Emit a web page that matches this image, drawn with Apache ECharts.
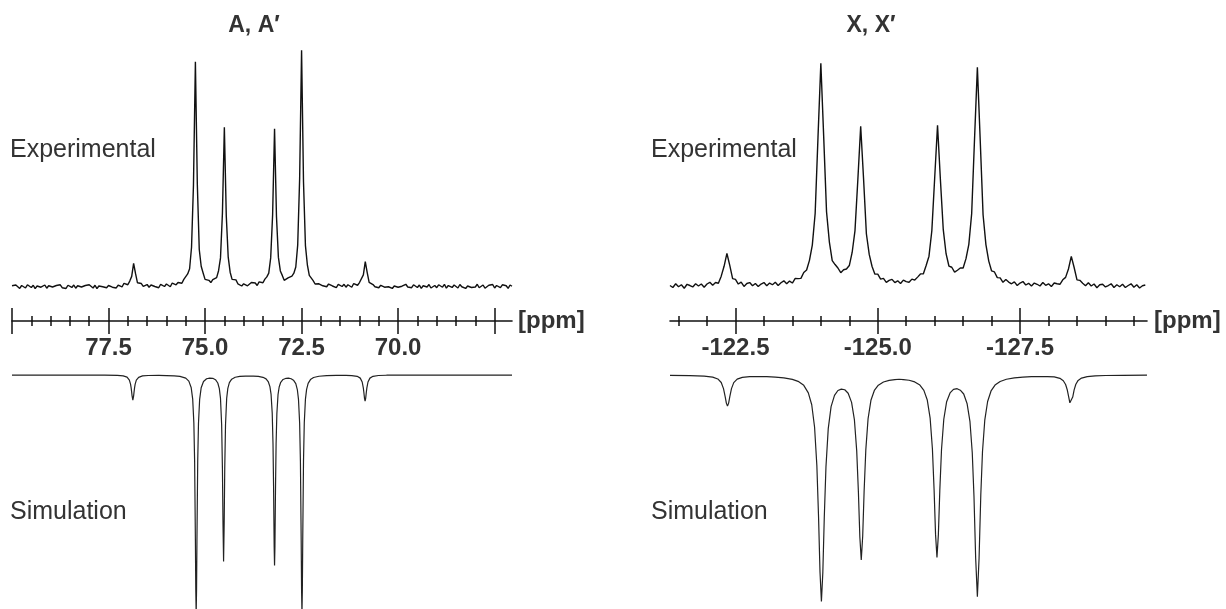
<!DOCTYPE html>
<html>
<head>
<meta charset="utf-8">
<script src="https://cdn.jsdelivr.net/npm/echarts@6/dist/echarts.min.js"></script>
<style>
  html, body { margin: 0; background: #fff; }
  #main { width: 1226px; height: 609px; }
</style>
</head>
<body>
<div id="main"></div>
<script>
// ---- tick positions (ppm) ----
const leftMajorTicks = [80, 77.5, 75, 72.5, 70, 67.5];
const leftLabelTicks = [77.5, 75, 72.5, 70];
const leftMinorTicks = [79.5, 79, 78.5, 78, 77, 76.5, 76, 75.5, 74.5, 74, 73.5, 73,
  72, 71.5, 71, 70.5, 69.5, 69, 68.5, 68];
const rightMajorTicks = [-122.5, -125, -127.5];
const rightLabelTicks = [-122.5, -125, -127.5];
const rightMinorTicks = [-121.5, -122, -123, -123.5, -124, -124.5, -125.5, -126,
  -126.5, -127, -128, -128.5, -129, -129.5];

// ---- experimental spectra: intensity every 0.05 ppm ----
const leftExpStart = 80.0;
const rightExpStart = -121.35;
const expStep = 0.05;

const leftExp = [
  0.3, -0.5, 0.6, -0.2, -0.8, 0.4, 0.1, -0.6, 0.7, -0.1,
  -0.4, 0.5, -0.9, 0.2, 0.8, -0.3, 0.0, 0.6, -0.7, 0.3,
  0.9, -0.2, -0.6, 0.4, -0.1, 0.7, -0.5, 0.2, -0.8, 0.5,
  0.1, -0.4, 0.6, -0.7, 0.3, 0.8, -0.2, -0.5, 0.4, -0.3,
  0.7, 0.0, -0.6, 0.5, -0.9, 0.2, 0.6, -0.1, 0.3, -0.5,
  0.4, 0.8, -0.3, 0.1, -0.6, 0.6, 0.4, -0.2, 1.3, 0.8,
  0.7, 2.2, 4.1, 9.4, 5.2, 1.5, 1.1, 1.2, 0.0, 0.4,
  0.8, -0.3, 0.6, 1.1, 0.0, 0.6, -0.5, 0.9, 0.4, 0.0,
  1.0, 0.6, -0.1, 1.4, 0.9, 0.7, 1.6, 1.6, 1.3, 2.9,
  3.3, 5.1, 7.2, 15.9, 41.2, 91.2, 41.5, 15.0, 8.2, 5.5,
  2.9, 3.3, 2.5, 1.6, 2.8, 3.6, 3.6, 6.4, 11.6, 29.7,
  64.6, 28.6, 11.9, 5.8, 2.9, 2.9, 2.7, 1.1, 1.6, 0.2,
  1.1, 1.5, 0.3, 1.1, 1.6, 0.8, 1.4, 0.4, 1.9, 1.6,
  1.5, 3.0, 3.9, 5.4, 11.6, 29.1, 64.0, 28.4, 11.8, 6.3,
  4.5, 2.5, 3.1, 3.5, 2.7, 4.2, 5.4, 7.9, 16.9, 43.8,
  95.8, 42.4, 16.6, 8.8, 4.5, 3.7, 2.4, 1.0, 1.8, 1.1,
  1.7, 0.3, 0.9, -0.1, 1.0, 1.3, 0.2, 0.7, -0.5, 0.9,
  0.5, 0.0, 0.9, -0.3, 0.7, 0.4, -0.3, 1.2, 0.8, 0.5,
  1.6, 2.4, 4.7, 10.1, 5.6, 1.7, 1.7, 0.8, -0.1, 0.7,
  -0.5, 0.5, 0.9, -0.3, 0.5, -0.1, 0.6, -0.8, 0.2, 0.7,
  -0.3, 0.5, 0.1, -0.6, 0.9, -0.2, 0.4, -0.5, 0.7, 0.0,
  -0.4, 0.6, -0.8, 0.3, 0.5, -0.2, 0.8, -0.6, 0.1, 0.4,
  -0.5, 0.7, 0.2, -0.3, 0.9, -0.7, 0.4, 0.1, -0.4, 0.6,
  0.3, -0.6, 0.8, -0.1, 0.5, -0.8, 0.2, 0.7, -0.4, 0.4,
  -0.2, 0.9, -0.5, 0.3, 0.6, -0.7, 0.1, 0.5, -0.3, 0.8,
  -0.6, 0.4, 0.2, -0.5, 0.7, -0.1, 0.3, -0.8, 0.6, 0.1
];

const rightExp = [
  0.4, -0.4, 1.1, -0.1, 0.7, -0.7, 0.9, 0.4, -0.2, 1.1,
  0.2, 1.0, -0.3, 1.0, 1.7, 0.5, 1.6, 1.3, 4.2, 8.2,
  13.4, 8.6, 3.2, 2.9, 1.0, 1.8, 0.0, 1.2, 1.6, 0.3,
  1.2, 0.0, 1.0, 1.6, 0.3, 1.4, 0.7, 1.7, 0.4, 1.5,
  2.3, 1.1, 2.2, 1.4, 3.3, 3.2, 3.3, 5.7, 6.7, 10.6,
  16.8, 29.6, 60.5, 90.6, 60.8, 30.3, 18.0, 10.5, 8.9, 7.5,
  5.6, 6.8, 7.1, 8.5, 13.8, 22.7, 43.3, 65.0, 43.9, 21.4,
  13.0, 8.1, 5.0, 5.0, 3.0, 3.3, 1.7, 2.5, 2.9, 1.6,
  2.3, 1.2, 2.6, 2.0, 1.7, 3.0, 2.6, 3.8, 5.1, 5.1,
  8.5, 12.3, 22.6, 44.0, 65.4, 43.5, 23.3, 13.3, 8.3, 7.8,
  5.8, 6.6, 7.5, 7.5, 11.3, 17.1, 29.6, 59.8, 88.9, 59.3,
  29.1, 17.0, 10.3, 6.3, 5.9, 3.6, 3.5, 1.7, 2.8, 1.8,
  1.1, 1.9, 0.4, 1.4, 2.0, 0.6, 1.3, 0.2, 1.4, 0.9,
  0.2, 1.6, 0.5, 1.1, 0.0, 1.4, 1.1, 0.9, 2.7, 3.7,
  7.1, 12.2, 7.7, 2.7, 2.5, 1.3, 0.3, 1.5, 0.2, 1.0,
  -0.5, 0.7, 0.9, -0.2, 0.4, 1.1, -0.4, 0.7, -0.1, 0.9,
  -0.4, 0.4, 1.1, -0.3, 0.7, -0.6, 0.3, 0.6
];

// ---- simulated spectra: [ppm, depth] ----
const leftSim = [
  [80.0, 0], [79.0, 0.02], [78.0, 0.05], [77.6, 0.06], [77.27, 0.15], [77.12, 0.37],
  [77.02, 0.92], [76.96, 2.2], [76.93, 3.9], [76.915, 5.4], [76.9, 7.4], [76.89, 8.9],
  [76.87, 10.7], [76.85, 8.9], [76.84, 7.4], [76.825, 5.4], [76.81, 3.9], [76.78, 2.2],
  [76.72, 1.0], [76.62, 0.38], [76.47, 0.2], [76.2, 0.18], [76.0, 0.22], [75.8, 0.33],
  [75.65, 0.58], [75.5, 1.33], [75.42, 2.6], [75.36, 5.3], [75.32, 10.3], [75.29, 20.5],
  [75.27, 36.8], [75.25, 70.7], [75.24, 91.8], [75.23, 102], [75.22, 91.8], [75.21, 70.8],
  [75.19, 36.9], [75.17, 20.6], [75.14, 10.4], [75.1, 5.4], [75.04, 2.75], [74.96, 1.6],
  [74.88, 1.35], [74.8, 1.4], [74.73, 2.0], [74.67, 3.4], [74.63, 5.8], [74.6, 10.0],
  [74.57, 21.3], [74.55, 40], [74.535, 63.8], [74.52, 79.7], [74.505, 63.8], [74.49, 40],
  [74.47, 21.3], [74.44, 10.0], [74.41, 5.7], [74.37, 3.24], [74.31, 1.76], [74.22, 0.96],
  [74.1, 0.56], [73.95, 0.46], [73.85, 0.44], [73.75, 0.46], [73.62, 0.6], [73.5, 0.98],
  [73.42, 1.65], [73.36, 2.95], [73.32, 4.95], [73.29, 8.3], [73.26, 16.4], [73.24, 29.4],
  [73.225, 48.1], [73.21, 73.3], [73.2, 81.4], [73.19, 73.3], [73.175, 48.1], [73.16, 29.5],
  [73.14, 16.5], [73.11, 8.4], [73.08, 5.1], [73.04, 3.1], [72.98, 1.9], [72.9, 1.4],
  [72.84, 1.35], [72.77, 1.6], [72.71, 2.2], [72.65, 3.7], [72.61, 6.2], [72.58, 10.4],
  [72.55, 20.6], [72.53, 36.9], [72.51, 70.8], [72.5, 91.8], [72.49, 102], [72.48, 91.8],
  [72.47, 70.7], [72.45, 36.8], [72.43, 20.5], [72.4, 10.3], [72.37, 6.1], [72.33, 3.56],
  [72.27, 1.95], [72.19, 1.06], [72.05, 0.52], [71.85, 0.26], [71.6, 0.17], [71.35, 0.17],
  [71.2, 0.24], [71.06, 0.55], [70.98, 1.32], [70.93, 2.98], [70.9, 5.6], [70.885, 7.66],
  [70.87, 10.0], [70.855, 11.1], [70.84, 10.0], [70.825, 7.66], [70.81, 5.6], [70.78, 2.98],
  [70.73, 1.32], [70.65, 0.55], [70.51, 0.2], [70.3, 0.08], [69.8, 0.02], [69.0, 0],
  [67.05, 0]
];

const rightSim = [
  [-121.35, 0.17], [-121.7, 0.26], [-121.95, 0.47], [-122.1, 0.88], [-122.19, 1.67],
  [-122.25, 3.2], [-122.29, 5.8], [-122.32, 9.3], [-122.34, 12.0], [-122.36, 13.3],
  [-122.38, 12.0], [-122.4, 9.3], [-122.43, 5.8], [-122.47, 3.25], [-122.53, 1.76],
  [-122.62, 1.0], [-122.75, 0.7], [-122.9, 0.64], [-123.05, 0.71], [-123.2, 0.89],
  [-123.35, 1.2], [-123.5, 1.84], [-123.6, 2.7], [-123.7, 4.4], [-123.78, 7.6],
  [-123.84, 12.7], [-123.89, 22.3], [-123.93, 38.7], [-123.96, 60.8], [-123.985, 84.1],
  [-124.01, 96.8], [-124.035, 84.4], [-124.06, 61.2], [-124.09, 39.2], [-124.13, 22.9],
  [-124.18, 13.5], [-124.24, 8.7], [-124.3, 6.6], [-124.36, 6.0], [-124.42, 6.3],
  [-124.48, 7.8], [-124.54, 11.7], [-124.59, 19.2], [-124.63, 32.3], [-124.66, 50.1],
  [-124.685, 69.1], [-124.71, 79.0], [-124.735, 69.0], [-124.76, 49.9], [-124.79, 32.0],
  [-124.83, 18.6], [-124.88, 10.8], [-124.94, 6.6], [-125.01, 4.34], [-125.1, 2.96],
  [-125.2, 2.28], [-125.3, 1.98], [-125.375, 1.81], [-125.45, 1.97], [-125.55, 2.23],
  [-125.65, 2.93], [-125.74, 4.28], [-125.81, 6.55], [-125.87, 10.7], [-125.92, 18.4],
  [-125.96, 31.5], [-125.99, 49.3], [-126.015, 68.0], [-126.04, 77.95], [-126.065, 68.1],
  [-126.09, 49.4], [-126.12, 31.8], [-126.16, 18.9], [-126.21, 11.4], [-126.27, 7.65],
  [-126.33, 6.1], [-126.395, 5.83], [-126.45, 6.47], [-126.51, 8.1], [-126.57, 12.3],
  [-126.62, 19.95], [-126.66, 33.1], [-126.69, 51.6], [-126.72, 78.3], [-126.75, 94.8],
  [-126.78, 78.2], [-126.81, 51.4], [-126.84, 32.7], [-126.88, 19.3], [-126.93, 11.3],
  [-126.99, 6.8], [-127.06, 4.3], [-127.15, 2.76], [-127.26, 1.8], [-127.4, 1.25],
  [-127.55, 0.9], [-127.7, 0.71], [-127.85, 0.64], [-127.98, 0.65], [-128.1, 0.82],
  [-128.2, 1.4], [-128.26, 2.44], [-128.3, 4.05], [-128.33, 6.4], [-128.355, 9.45],
  [-128.375, 11.85], [-128.39, 12.55], [-128.405, 11.8], [-128.425, 9.4], [-128.45, 6.35],
  [-128.48, 3.95], [-128.52, 2.3], [-128.58, 1.3], [-128.68, 0.65], [-128.82, 0.35],
  [-129.0, 0.2], [-129.3, 0.11], [-129.73, 0.07]
];

const leftRange = [67.05, 80.0];
const rightRange = [-129.73, -121.35];

const FONT = '"Liberation Sans", Arial, Helvetica, sans-serif';
const INK = '#111';

function toXY(start, values) {
  return values.map((v, i) => [+(start - i * expStep).toFixed(3), v]);
}

// four overlapping x axes make one ruler: long/short ticks on both sides
function rulerAxes(gridIndex, range, major, labels, minor) {
  const base = {
    gridIndex, type: 'value', inverse: true, min: range[0], max: range[1],
    position: 'bottom', splitLine: { show: false },
    axisLine: { show: false, onZero: false },
    axisLabel: { show: false }
  };
  const tick = (values, length, inside) => ({
    show: true, customValues: values, length, inside,
    lineStyle: { color: INK, width: 1.5 }
  });
  return [
    Object.assign({}, base, {
      axisLine: { show: true, onZero: false, lineStyle: { color: INK, width: 1.6 } },
      axisTick: tick(major, 13, false),
      axisLabel: {
        show: true, customValues: labels, margin: 15,
        formatter: (v) => v.toFixed(1),
        fontFamily: FONT, fontSize: 24, fontWeight: 'bold', color: '#333'
      }
    }),
    Object.assign({}, base, { axisTick: tick(major, 13, true) }),
    Object.assign({}, base, { axisTick: tick(minor, 5, false) }),
    Object.assign({}, base, { axisTick: tick(minor, 5, true) })
  ];
}

function hiddenX(gridIndex, range) {
  return { gridIndex, type: 'value', inverse: true, min: range[0], max: range[1], show: false };
}

const myChart = echarts.init(document.getElementById('main'));

const lineOf = (xIdx, yIdx, data, color, width) => ({
  type: 'line', xAxisIndex: xIdx, yAxisIndex: yIdx, data,
  symbol: 'none', silent: true, lineStyle: { color, width }
});

const text = (x, y, str, font, align) => ({
  type: 'text', x, y, silent: true,
  style: { text: str, font, fill: '#333', textAlign: align || 'left', textVerticalAlign: 'middle' }
});

const option = {
  animation: false,
  grid: [
    { left: 12, top: 40, width: 500, height: 281 },
    { left: 12, top: 361, width: 500, height: 248 },
    { left: 670, top: 40, width: 477, height: 281 },
    { left: 670, top: 361, width: 477, height: 248 }
  ],
  xAxis: [
    ...rulerAxes(0, leftRange, leftMajorTicks, leftLabelTicks, leftMinorTicks),
    hiddenX(1, leftRange),
    ...rulerAxes(2, rightRange, rightMajorTicks, rightLabelTicks, rightMinorTicks),
    hiddenX(3, rightRange)
  ],
  yAxis: [
    { gridIndex: 0, type: 'value', min: -14, max: 100, show: false },
    { gridIndex: 1, type: 'value', min: -6, max: 100, inverse: true, show: false },
    { gridIndex: 2, type: 'value', min: -14, max: 100, show: false },
    { gridIndex: 3, type: 'value', min: -6, max: 100, inverse: true, show: false }
  ],
  series: [
    lineOf(0, 0, toXY(leftExpStart, leftExp), INK, 1.4),
    lineOf(4, 1, leftSim, '#222', 1.2),
    lineOf(5, 2, toXY(rightExpStart, rightExp), INK, 1.4),
    lineOf(9, 3, rightSim, '#222', 1.2)
  ],
  graphic: [
    text(254, 26, 'A, A\u2032', 'bold 23px ' + FONT, 'center'),
    text(871, 26, 'X, X\u2032', 'bold 23px ' + FONT, 'center'),
    text(10, 150, 'Experimental', '25px ' + FONT),
    text(651, 150, 'Experimental', '25px ' + FONT),
    text(10, 512, 'Simulation', '25px ' + FONT),
    text(651, 512, 'Simulation', '25px ' + FONT),
    text(518, 321, '[ppm]', 'bold 24px ' + FONT),
    text(1154, 321, '[ppm]', 'bold 24px ' + FONT)
  ]
};

myChart.setOption(option);
</script>
</body>
</html>
